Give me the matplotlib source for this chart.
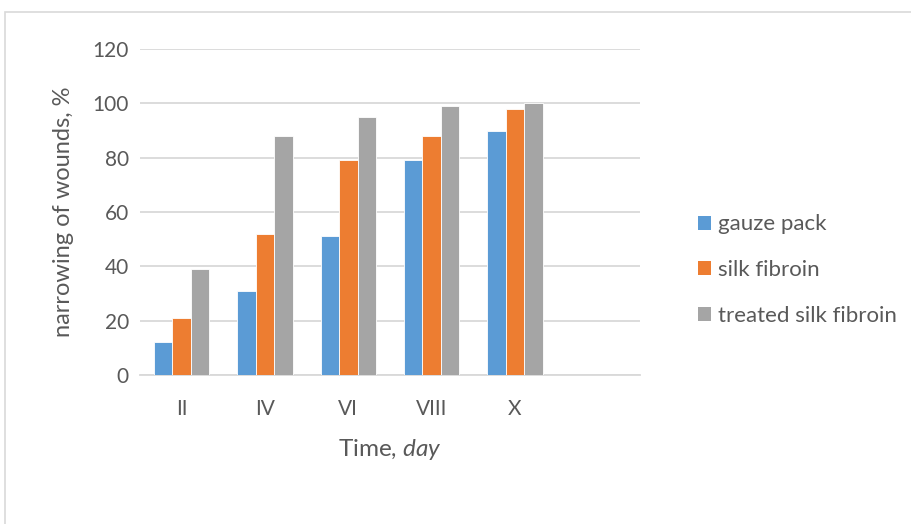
import matplotlib
matplotlib.use('Agg')
import matplotlib.pyplot as plt
import numpy as np
from matplotlib.patches import Patch, Rectangle

# data
days = ['II', 'IV', 'VI', 'VIII', 'X']
gauze_pack = [12, 31, 51, 79, 90]
silk_fibroin = [21, 52, 79, 88, 98]
treated_silk_fibroin = [39, 88, 95, 99, 100]
series_names = ['gauze pack', 'silk fibroin', 'treated silk fibroin']
y_ticks = [0, 20, 40, 60, 80, 100, 120]

colors = ['#5B9BD5', '#ED7D31', '#A5A5A5']
text_color = '#595959'
grid_color = '#D9D9D9'

plt.rcParams['font.family'] = ['Lato', 'DejaVu Sans']
plt.rcParams['mathtext.fontset'] = 'custom'
plt.rcParams['mathtext.rm'] = 'Lato'
plt.rcParams['mathtext.it'] = 'Lato:italic'

fig = plt.figure(figsize=(9.12, 5.24), dpi=100)
ax = fig.add_axes([140 / 912, 1 - 375 / 524, 500 / 912, 326 / 524])

# chart border (only top/left visible in the image)
fig.add_artist(Rectangle((5 / 912, -0.1), 1.2, (1 - 12 / 524) + 0.1,
                         transform=fig.transFigure, fill=False,
                         edgecolor=grid_color, linewidth=1.2))

x = np.arange(len(days))
bw = 1 / 4.5
for i, (vals, c) in enumerate(zip([gauze_pack, silk_fibroin, treated_silk_fibroin], colors)):
    ax.bar(x + (i - 1) * bw, vals, width=bw, color=c, edgecolor='white',
           linewidth=0.6, zorder=3)

ax.set_xlim(-0.5, 5.5)
ax.set_ylim(0, 120)
ax.set_yticks(y_ticks)
ax.set_xticks(x)
ax.set_xticklabels(days)
ax.yaxis.grid(True, color=grid_color, linewidth=1.3, zorder=0)
ax.set_axisbelow(True)
for s in ['top', 'right', 'left']:
    ax.spines[s].set_visible(False)
ax.spines['bottom'].set_color(grid_color)
ax.spines['bottom'].set_linewidth(1.3)
ax.tick_params(axis='both', length=0, labelsize=15, colors=text_color)
ax.tick_params(axis='x', pad=17)
ax.tick_params(axis='y', pad=8)

ax.set_ylabel('narrowing of wounds, %', fontsize=17, color=text_color, labelpad=13)
ax.set_xlabel('Time, $\\mathit{day}$', fontsize=17.5, color=text_color, labelpad=13)

handles = [Patch(facecolor=c, edgecolor='none') for c in colors]
fig.legend(handles, series_names, loc='center left',
           bbox_to_anchor=(698 / 912, 1 - 270 / 524), frameon=False,
           fontsize=16, labelcolor=text_color, labelspacing=1.15,
           handlelength=0.6, handleheight=0.6, handletextpad=0.3,
           borderaxespad=0, borderpad=0)

fig.savefig('out.png', dpi=100, facecolor='white')
